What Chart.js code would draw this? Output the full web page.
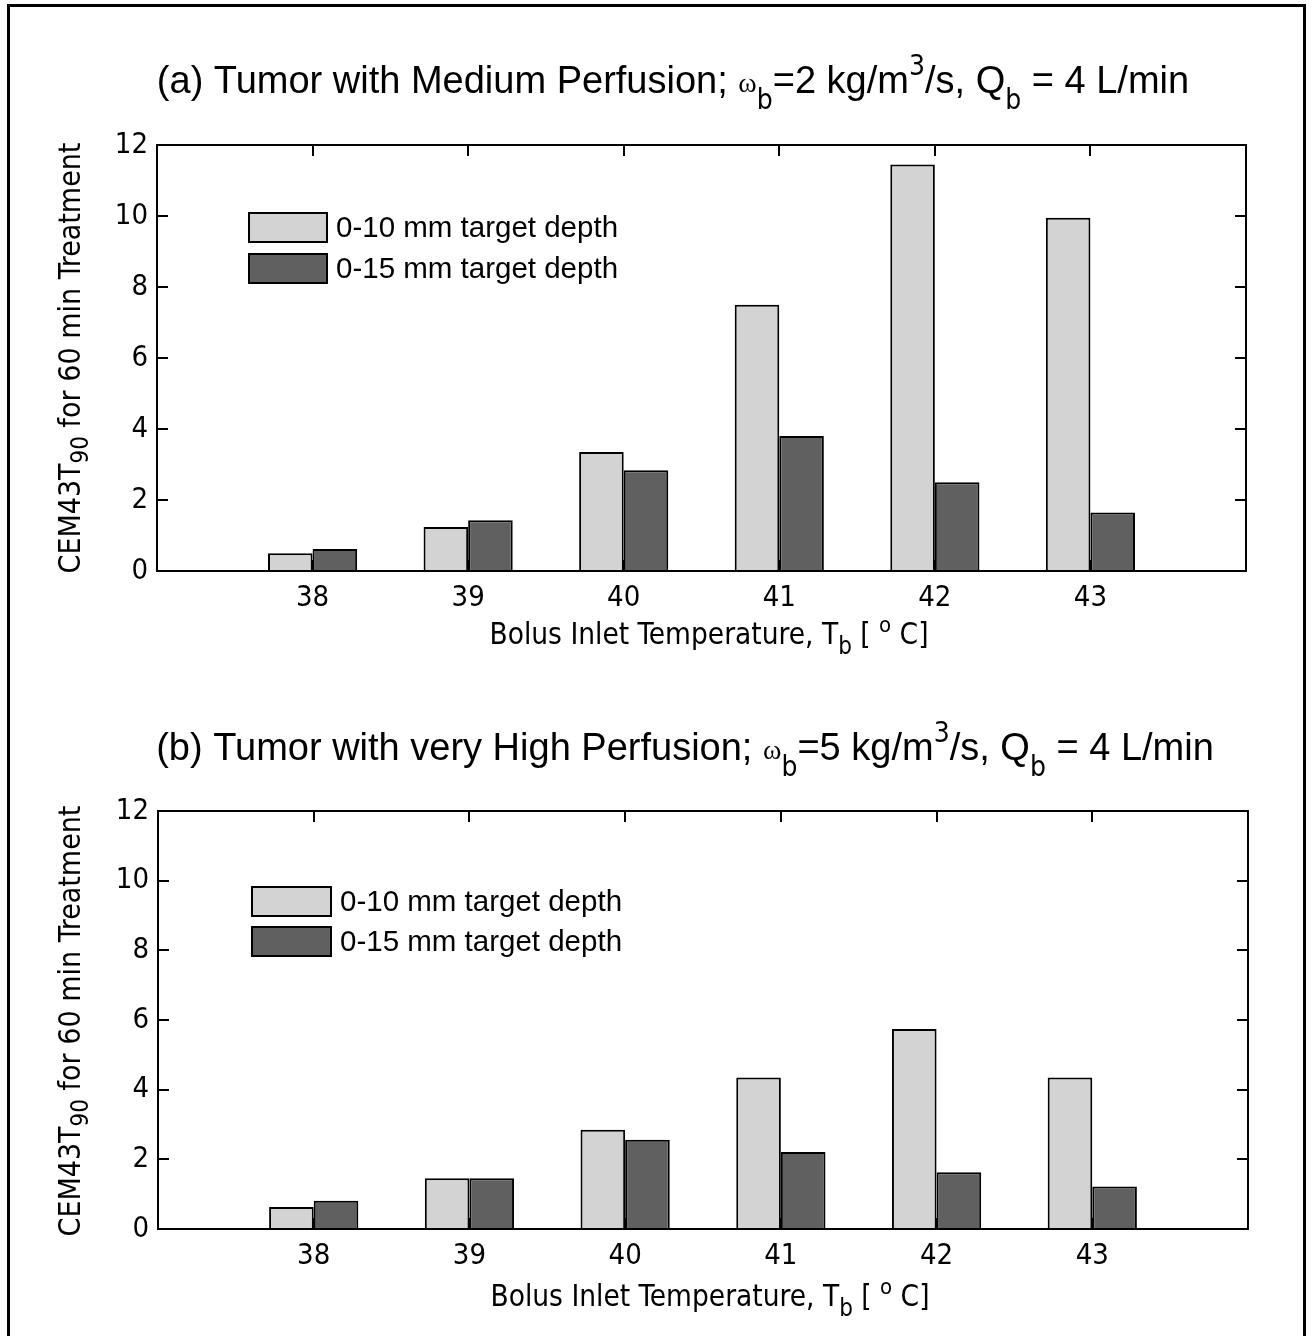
<!DOCTYPE html>
<html>
<head>
<meta charset="utf-8">
<script src="https://cdn.jsdelivr.net/npm/chart.js@4/dist/chart.umd.min.js"></script>
<style>
  html, body { margin: 0; padding: 0; background: #fff; }
  #page { position: relative; width: 1313px; height: 1336px; overflow: hidden; background: #fff; }
  #frame { position: absolute; left: 7px; top: 4px; width: 1293px; height: 1400px;
           border-left: 3px solid #000; border-top: 3px solid #000; border-right: 3px solid #000; }
  .wrap { position: absolute; left: 0; width: 1313px; height: 668px; }
  canvas { display: block; }
</style>
</head>
<body>
<div id="page">
  <div id="frame"></div>
  <div class="wrap" style="top:0px"><canvas id="chartA" width="1313" height="668"></canvas></div>
  <div class="wrap" style="top:668px"><canvas id="chartB" width="1313" height="668"></canvas></div>
</div>
<script>
// ---------------- data ----------------
const temperatures = [38, 39, 40, 41, 42, 43];
const seriesLabels = ['0-10 mm target depth', '0-15 mm target depth'];
const mediumPerfusion10mm = [0.5, 1.24, 3.35, 7.5, 11.45, 9.95];
const mediumPerfusion15mm = [0.62, 1.43, 2.84, 3.8, 2.5, 1.65];
const highPerfusion10mm = [0.63, 1.46, 2.85, 4.35, 5.74, 4.35];
const highPerfusion15mm = [0.81, 1.46, 2.56, 2.21, 1.63, 1.22];
const yTickValues = [0, 2, 4, 6, 8, 10, 12];
const xRange = [37, 44];

// ---------------- styles ----------------
const NARROW = "'Liberation Sans Narrow', 'DejaVu Sans Condensed', 'Arial Narrow', sans-serif";
const SANS = "'Liberation Sans', Arial, sans-serif";
const LIGHT = 'rgb(211,211,211)';
const DARK = 'rgb(96,96,96)';

// rich text: segments {t, font, dy}
function drawRich(ctx, segs, cx, cy, rotate) {
  ctx.save();
  ctx.translate(cx, cy);
  if (rotate) ctx.rotate(-Math.PI / 2);
  ctx.textBaseline = 'middle';
  ctx.textAlign = 'left';
  let total = 0;
  const widths = segs.map(s => { ctx.font = s.font; const w = ctx.measureText(s.t).width; total += w; return w; });
  let x = -total / 2;
  segs.forEach((s, i) => {
    ctx.font = s.font;
    ctx.fillStyle = '#000';
    ctx.fillText(s.t, x, s.dy || 0);
    x += widths[i];
  });
  ctx.restore();
}

const framePlugin = {
  id: 'matlabFrame',
  afterDraw(chart, args, opts) {
    const ctx = chart.ctx;
    const a = chart.chartArea;
    const xs = chart.scales.x, ys = chart.scales.y;
    ctx.save();
    ctx.strokeStyle = '#000';
    ctx.lineWidth = 2;
    // ticks inward
    ctx.beginPath();
    yTickValues.forEach(v => {
      const py = Math.round(ys.getPixelForValue(v));
      ctx.moveTo(a.left, py); ctx.lineTo(a.left + 11, py);
      ctx.moveTo(a.right, py); ctx.lineTo(a.right - 11, py);
    });
    temperatures.forEach(v => {
      const px = Math.round(xs.getPixelForValue(v));
      ctx.moveTo(px, a.top); ctx.lineTo(px, a.top + 11);
      ctx.moveTo(px, a.bottom); ctx.lineTo(px, a.bottom - 11);
    });
    ctx.stroke();
    ctx.strokeRect(a.left, a.top, a.right - a.left, a.bottom - a.top);

    // legend
    const lg = opts.legend;
    chart.data.datasets.forEach((ds, i) => {
      const bx = a.left + lg.dx, by = a.top + lg.dy + i * lg.gap;
      ctx.fillStyle = ds.backgroundColor;
      ctx.fillRect(bx, by, lg.w, lg.h);
      ctx.lineWidth = 2;
      ctx.strokeStyle = '#000';
      ctx.strokeRect(bx + 1, by + 1, lg.w - 2, lg.h - 2);
      ctx.fillStyle = '#000';
      ctx.font = lg.font;
      ctx.textBaseline = 'middle';
      ctx.textAlign = 'left';
      ctx.fillText(ds.label, bx + lg.w + 8, by + lg.h / 2 + 1);
    });
    ctx.restore();

    // titles
    drawRich(ctx, opts.title.segs, opts.title.x, opts.title.y, false);
    drawRich(ctx, opts.ytitle.segs, opts.ytitle.x, opts.ytitle.y, true);
    drawRich(ctx, opts.xtitle.segs, opts.xtitle.x, opts.xtitle.y, false);
  }
};

function titleSegs(prefix, omegaVal) {
  const main = '38px ' + SANS;
  const small = '28px ' + NARROW;
  return [
    { t: prefix, font: main },
    { t: 'ω', font: '28px serif', dy: 2 },
    { t: 'b', font: small, dy: 19 },
    { t: '=' + omegaVal + ' kg/m', font: main },
    { t: '3', font: small, dy: -15 },
    { t: '/s, Q', font: main },
    { t: 'b', font: small, dy: 19 },
    { t: ' = 4 L/min', font: main }
  ];
}
const yTitleSegs = [
  { t: 'CEM43T', font: '30px ' + NARROW },
  { t: '90', font: '24px ' + NARROW, dy: 10 },
  { t: ' for 60 min Treatment', font: '30px ' + NARROW }
];
const xTitleSegs = [
  { t: 'Bolus Inlet Temperature, T', font: '29.5px ' + NARROW },
  { t: 'b', font: '24px ' + NARROW, dy: 12 },
  { t: ' [ ', font: '29.5px ' + NARROW },
  { t: 'o', font: '22px ' + NARROW, dy: -10 },
  { t: ' C]', font: '29.5px ' + NARROW }
];

function makeChart(id, d10, d15, cfg) {
  return new Chart(document.getElementById(id), {
    type: 'bar',
    data: {
      labels: temperatures,
      datasets: [
        { label: seriesLabels[0], data: d10, backgroundColor: LIGHT, borderColor: '#000', borderWidth: 2 },
        { label: seriesLabels[1], data: d15, backgroundColor: DARK, borderColor: '#000', borderWidth: 2 }
      ]
    },
    options: {
      responsive: false,
      animation: false,
      devicePixelRatio: 1,
      categoryPercentage: 0.573,
      barPercentage: 1.0,
      layout: { padding: cfg.padding },
      plugins: {
        legend: { display: false },
        tooltip: { enabled: false },
        matlabFrame: cfg.frame
      },
      scales: {
        x: {
          type: 'linear',
          min: xRange[0], max: xRange[1],
          offset: false,
          grid: { display: false, drawTicks: false },
          border: { display: false },
          ticks: {
            stepSize: 1,
            padding: 10,
            color: '#000',
            font: { family: NARROW, size: 29 },
            maxRotation: 0,
            callback: v => temperatures.includes(v) ? String(v) : ''
          },
          afterFit: s => { s.height = 40; }
        },
        y: {
          min: yTickValues[0], max: yTickValues[yTickValues.length - 1],
          grid: { display: false, drawTicks: false },
          border: { display: false },
          ticks: {
            stepSize: 2,
            padding: 9,
            color: '#000',
            font: { family: NARROW, size: 29 }
          },
          afterFit: s => { s.width = cfg.yWidth; }
        }
      }
    },
    plugins: [framePlugin]
  });
}

makeChart('chartA', mediumPerfusion10mm, mediumPerfusion15mm, {
  padding: { top: 145, right: 67, bottom: 57, left: 0 },
  yWidth: 157,
  frame: {
    legend: { dx: 91, dy: 67, gap: 41, w: 80, h: 31, font: '29.5px ' + SANS },
    title: { segs: titleSegs('(a) Tumor with Medium Perfusion; ', '2'), x: 673, y: 83 },
    ytitle: { segs: yTitleSegs, x: 72, y: 358 },
    xtitle: { segs: xTitleSegs, x: 709, y: 636 }
  }
});

makeChart('chartB', highPerfusion10mm, highPerfusion15mm, {
  padding: { top: 143, right: 65, bottom: 67, left: 0 },
  yWidth: 158,
  frame: {
    legend: { dx: 93, dy: 75, gap: 40, w: 81, h: 31, font: '29.5px ' + SANS },
    title: { segs: titleSegs('(b) Tumor with very High Perfusion; ', '5'), x: 685, y: 82 },
    ytitle: { segs: yTitleSegs, x: 72, y: 353 },
    xtitle: { segs: xTitleSegs, x: 710, y: 630 }
  }
});
</script>
</body>
</html>
